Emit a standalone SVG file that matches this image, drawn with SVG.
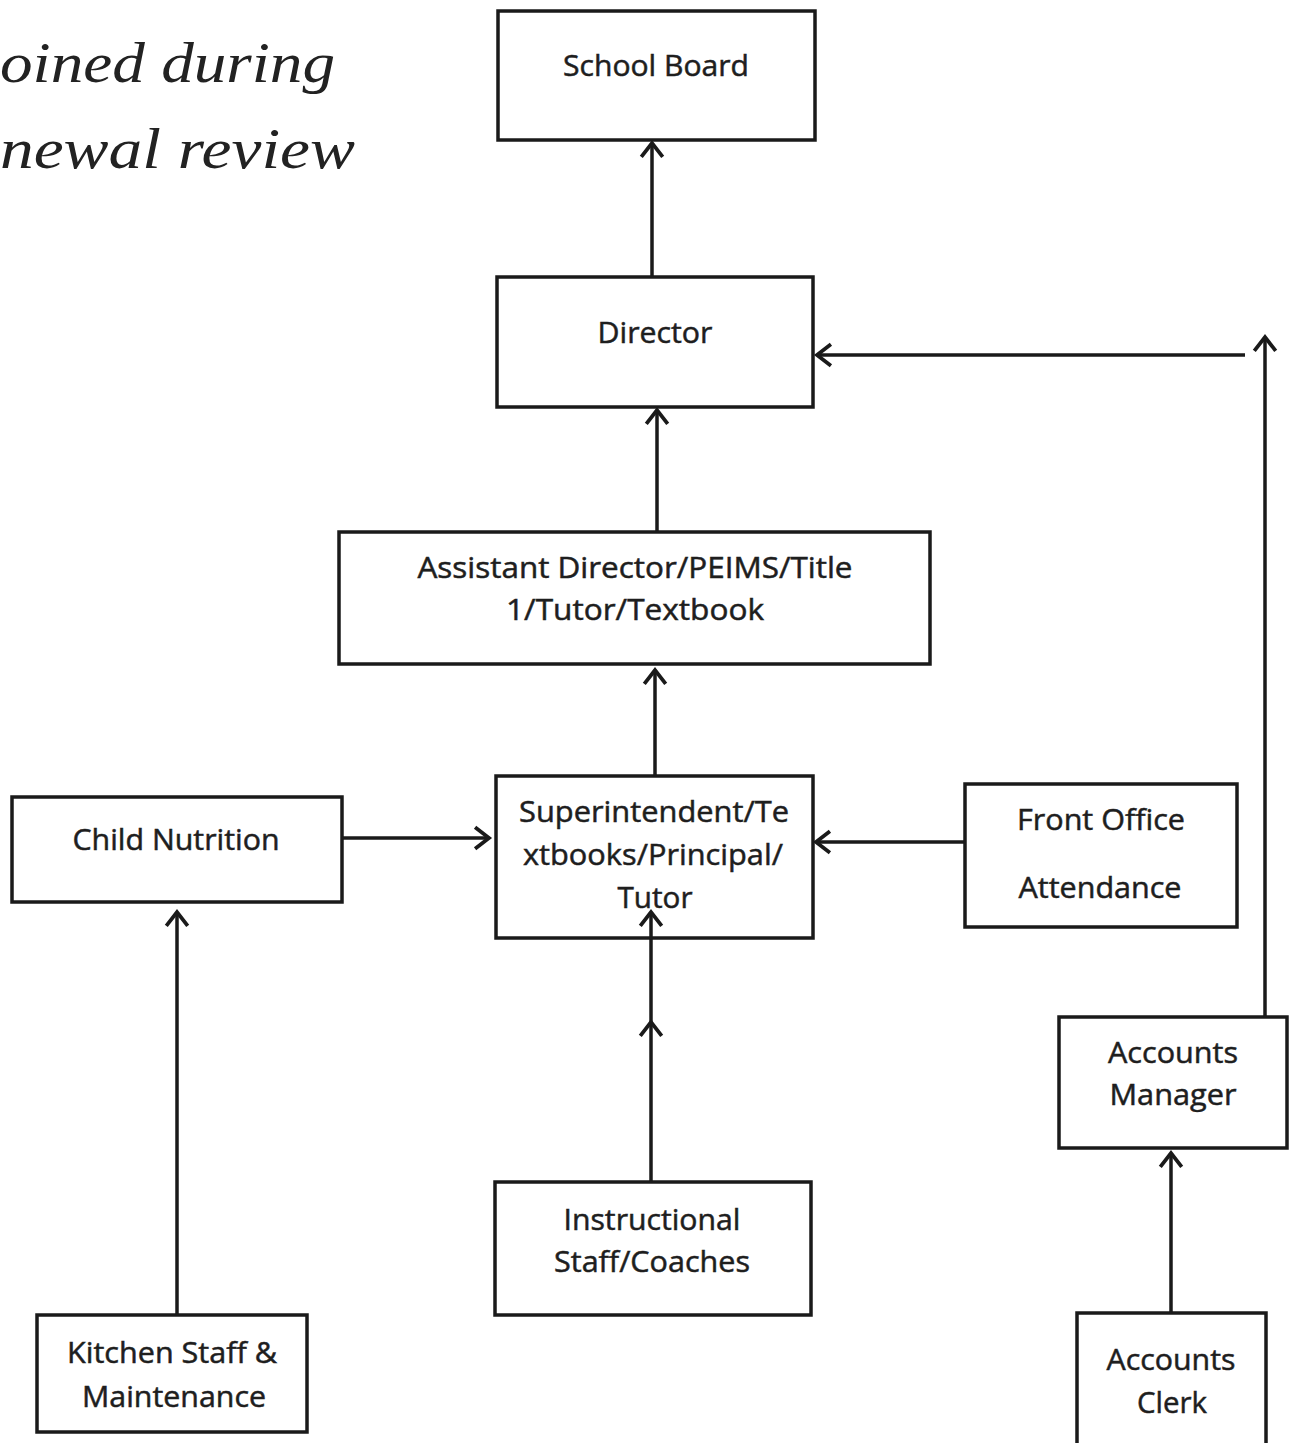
<svg xmlns="http://www.w3.org/2000/svg" width="1289" height="1443" viewBox="0 0 1289 1443">
<style>
.box{fill:#fff;stroke:#1a1a1a;stroke-width:3.5}
.lbl{font-family:"Open Sans","Noto Sans",sans-serif;font-size:29px;fill:#1e1e1e;stroke:#1e1e1e;stroke-width:0.5;text-anchor:middle}
.con{fill:none;stroke:#1a1a1a;stroke-width:3.5}
.hand{font-family:"Liberation Serif","DejaVu Serif",serif;font-style:italic;font-size:56px;fill:#222}
</style>
<defs>
<marker id="arr" markerUnits="userSpaceOnUse" markerWidth="30" markerHeight="30" refX="0" refY="0" viewBox="-16 -14 20 28" orient="auto">
<path d="M-13,-10 L0,0 L-13,10" fill="none" stroke="#1a1a1a" stroke-width="3.5" stroke-linejoin="miter"/>
</marker>
</defs>
<rect width="1289" height="1443" fill="#fff"/>
<g id="note">
<text class="hand" x="0" y="82" textLength="335" lengthAdjust="spacingAndGlyphs">oined during</text>
<text class="hand" x="0" y="168" textLength="355" lengthAdjust="spacingAndGlyphs">newal review</text>
</g>
<g id="school-board">
<rect class="box" x="498" y="11" width="317" height="129"/>
<text class="lbl" x="656" y="76" textLength="186" lengthAdjust="spacingAndGlyphs">School Board</text>
</g>
<g id="director">
<rect class="box" x="497" y="277" width="316" height="130"/>
<text class="lbl" x="655" y="343" textLength="115" lengthAdjust="spacingAndGlyphs">Director</text>
</g>
<g id="assistant-director">
<rect class="box" x="339" y="532" width="591" height="132"/>
<text class="lbl" x="635" y="578" textLength="435" lengthAdjust="spacingAndGlyphs">Assistant Director/PEIMS/Title</text>
<text class="lbl" x="635" y="620" textLength="258" lengthAdjust="spacingAndGlyphs">1/Tutor/Textbook</text>
</g>
<g id="superintendent">
<rect class="box" x="496" y="776" width="317" height="162"/>
<text class="lbl" x="654" y="822" textLength="270" lengthAdjust="spacingAndGlyphs">Superintendent/Te</text>
<text class="lbl" x="653" y="865" textLength="260" lengthAdjust="spacingAndGlyphs">xtbooks/Principal/</text>
<text class="lbl" x="655" y="908" textLength="75" lengthAdjust="spacingAndGlyphs">Tutor</text>
</g>
<g id="child-nutrition">
<rect class="box" x="12" y="797" width="330" height="105"/>
<text class="lbl" x="176" y="850" textLength="207" lengthAdjust="spacingAndGlyphs">Child Nutrition</text>
</g>
<g id="front-office">
<rect class="box" x="965" y="784" width="272" height="143"/>
<text class="lbl" x="1101" y="830" textLength="168" lengthAdjust="spacingAndGlyphs">Front Office</text>
<text class="lbl" x="1100" y="898" textLength="163" lengthAdjust="spacingAndGlyphs">Attendance</text>
</g>
<g id="accounts-manager">
<rect class="box" x="1059" y="1017" width="228" height="131"/>
<text class="lbl" x="1173" y="1063" textLength="130" lengthAdjust="spacingAndGlyphs">Accounts</text>
<text class="lbl" x="1173" y="1105" textLength="127" lengthAdjust="spacingAndGlyphs">Manager</text>
</g>
<g id="kitchen-staff">
<rect class="box" x="37" y="1315" width="270" height="117"/>
<text class="lbl" x="172" y="1363" textLength="210" lengthAdjust="spacingAndGlyphs">Kitchen Staff &amp;</text>
<text class="lbl" x="174" y="1407" textLength="184" lengthAdjust="spacingAndGlyphs">Maintenance</text>
</g>
<g id="instructional-staff">
<rect class="box" x="495" y="1182" width="316" height="133"/>
<text class="lbl" x="652" y="1230" textLength="177" lengthAdjust="spacingAndGlyphs">Instructional</text>
<text class="lbl" x="652" y="1272" textLength="196" lengthAdjust="spacingAndGlyphs">Staff/Coaches</text>
</g>
<g id="accounts-clerk">
<rect class="box" x="1077" y="1313" width="189" height="140"/>
<text class="lbl" x="1171" y="1370" textLength="129" lengthAdjust="spacingAndGlyphs">Accounts</text>
<text class="lbl" x="1172" y="1413" textLength="70" lengthAdjust="spacingAndGlyphs">Clerk</text>
</g>
<g id="connectors">
<path class="con" d="M652,276 L652,143" marker-end="url(#arr)"/>
<path class="con" d="M657,531 L657,410" marker-end="url(#arr)"/>
<path class="con" d="M655,776 L655,670" marker-end="url(#arr)"/>
<path class="con" d="M342,838 L489,838" marker-end="url(#arr)"/>
<path class="con" d="M964,842 L816,842" marker-end="url(#arr)"/>
<path class="con" d="M651,1182 L651,1022 L651,912" marker-mid="url(#arr)" marker-end="url(#arr)"/>
<path class="con" d="M177,1315 L177,912" marker-end="url(#arr)"/>
<path class="con" d="M1171,1313 L1171,1153" marker-end="url(#arr)"/>
<path class="con" d="M1265,1017 L1265,337" marker-end="url(#arr)"/>
<path class="con" d="M1245,355 L817,355" marker-end="url(#arr)"/>
</g>
</svg>
